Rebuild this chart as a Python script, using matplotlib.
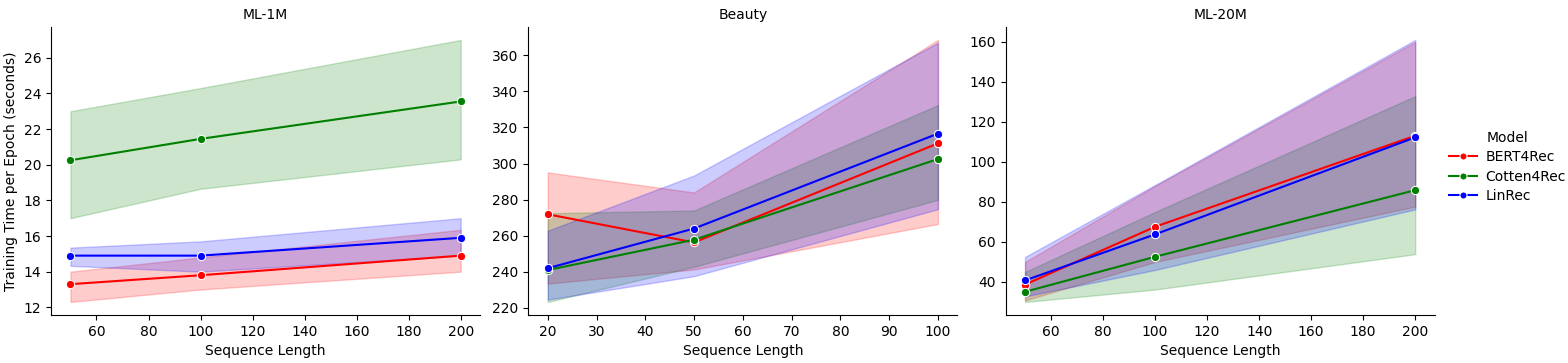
import numpy as np
import matplotlib
matplotlib.use("Agg")
import matplotlib.pyplot as plt

models = ["BERT4Rec", "Cotten4Rec", "LinRec"]
colors = ["red", "green", "blue"]
datasets = ["ML-1M", "Beauty", "ML-20M"]

# sequence lengths per dataset
seq_len = {
    "ML-1M": [50, 100, 200],
    "Beauty": [20, 50, 100],
    "ML-20M": [50, 100, 200],
}

# mean training time per epoch (seconds) and band limits
mean_ml1m = {"BERT4Rec": [13.3, 13.8, 14.9], "Cotten4Rec": [20.25, 21.45, 23.55], "LinRec": [14.9, 14.9, 15.9]}
low_ml1m = {"BERT4Rec": [12.3, 13.0, 14.0], "Cotten4Rec": [17.0, 18.65, 20.3], "LinRec": [14.33, 14.0, 14.9]}
high_ml1m = {"BERT4Rec": [14.0, 14.8, 16.35], "Cotten4Rec": [23.0, 24.3, 27.0], "LinRec": [15.35, 15.7, 17.0]}

mean_beauty = {"BERT4Rec": [271.9, 256.3, 311.2], "Cotten4Rec": [241.0, 257.8, 302.5], "LinRec": [242.0, 264.0, 316.6]}
low_beauty = {"BERT4Rec": [233.5, 241.3, 266.5], "Cotten4Rec": [223.3, 242.8, 279.9], "LinRec": [224.6, 237.6, 274.7]}
high_beauty = {"BERT4Rec": [295.1, 284.0, 368.5], "Cotten4Rec": [272.5, 274.0, 332.4], "LinRec": [262.8, 293.4, 367.0]}

mean_ml20m = {"BERT4Rec": [38.7, 67.6, 113.1], "Cotten4Rec": [35.1, 52.6, 85.9], "LinRec": [40.8, 63.8, 112.3]}
low_ml20m = {"BERT4Rec": [30.8, 50.0, 77.7], "Cotten4Rec": [30.0, 36.2, 53.9], "LinRec": [32.8, 46.0, 76.3]}
high_ml20m = {"BERT4Rec": [50.0, 88.0, 160.0], "Cotten4Rec": [45.0, 75.0, 132.9], "LinRec": [52.5, 88.5, 161.0]}

means = {"ML-1M": mean_ml1m, "Beauty": mean_beauty, "ML-20M": mean_ml20m}
lows = {"ML-1M": low_ml1m, "Beauty": low_beauty, "ML-20M": low_ml20m}
highs = {"ML-1M": high_ml1m, "Beauty": high_beauty, "ML-20M": high_ml20m}

fig, axes = plt.subplots(1, 3, figsize=(15.68, 3.63), dpi=100)
fig.subplots_adjust(left=0.0325, right=0.915, top=0.926, bottom=0.132, wspace=0.112)

handles = []
for ax, ds in zip(axes, datasets):
    x = seq_len[ds]
    for m, c in zip(models, colors):
        line, = ax.plot(x, means[ds][m], color=c, marker="o", markersize=6,
                        markeredgecolor="white", markeredgewidth=0.75, lw=1.5, label=m)
        ax.fill_between(x, lows[ds][m], highs[ds][m], color=c, alpha=0.2)
        if ds == datasets[0]:
            handles.append(line)
    ax.set_title(ds, fontsize=10)
    ax.set_xlabel("Sequence Length")
    ax.spines["top"].set_visible(False)
    ax.spines["right"].set_visible(False)

axes[0].set_ylabel("Training Time per Epoch (seconds)")

fig.legend(handles, models, title="Model", loc="center left",
           bbox_to_anchor=(0.919, 0.54), frameon=False,
           markerscale=0.85, handletextpad=0.6, borderaxespad=0.2,
           labelspacing=0.4)

fig.savefig("out.png", dpi=100)
